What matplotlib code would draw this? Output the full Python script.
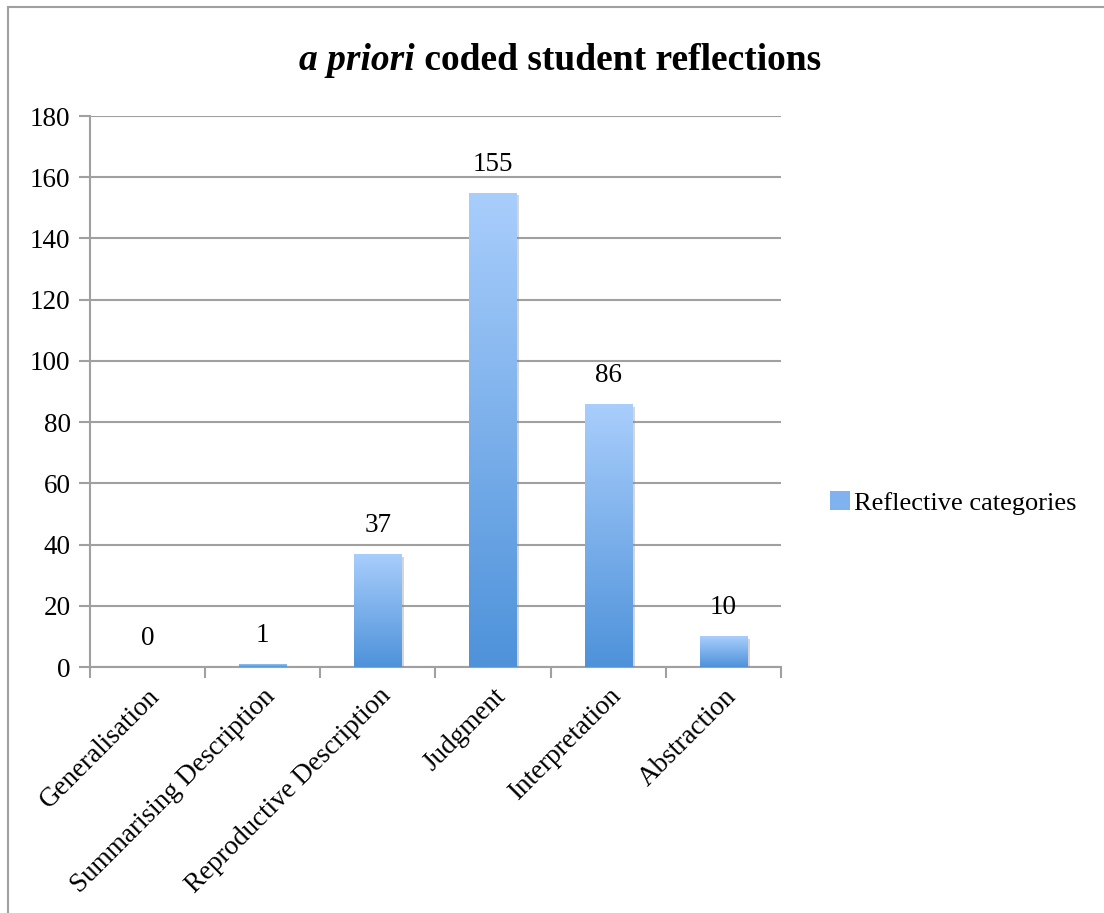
import matplotlib
matplotlib.use("Agg")
import matplotlib.pyplot as plt
import numpy as np
from matplotlib.patches import Rectangle
from matplotlib.lines import Line2D
import matplotlib.patheffects as pe
from matplotlib.colors import LinearSegmentedColormap

categories = ["Generalisation", "Summarising Description", "Reproductive Description",
              "Judgment", "Interpretation", "Abstraction"]
values = [0, 1, 37, 155, 86, 10]
series_name = "Reflective categories"
yticks = [0, 20, 40, 60, 80, 100, 120, 140, 160, 180]

plt.rcParams['font.family'] = ['Liberation Serif', 'DejaVu Serif']

W, H = 1104, 913
fig = plt.figure(figsize=(W/100, H/100), dpi=100)
ax = fig.add_axes([90/W, 1-667/H, (781-90)/W, (667-116)/H])

top_c = "#A9CEFC"
bot_c = "#4E92DA"
cmap = LinearSegmentedColormap.from_list("g", [bot_c, top_c])
grad = np.linspace(0, 1, 256).reshape(-1, 1)

FS = 19.5
bw = 0.41
for i, v in enumerate(values):
    if v <= 0:
        continue
    rect = Rectangle((i - bw/2, 0), bw, v, facecolor=bot_c, edgecolor='none', zorder=3,
                     path_effects=[pe.SimplePatchShadow(offset=(2, -2), shadow_rgbFace='#888888', alpha=0.35),
                                   pe.Normal()])
    ax.add_patch(rect)
    im = ax.imshow(grad, extent=(i - bw/2, i + bw/2, 0, v), origin='lower', cmap=cmap,
                   aspect='auto', zorder=4, interpolation='bilinear')
    im.set_clip_path(rect)

for i, v in enumerate(values):
    ax.text(i, v + 5.2, str(v), ha='center', va='bottom', fontsize=FS, color='black', zorder=5)

ax.set_xlim(-0.5, len(categories) - 0.5)
ax.set_ylim(0, 180)
ax.set_yticks(yticks)
ax.set_yticklabels([str(t) for t in yticks], fontsize=FS)
ax.set_xticks(np.arange(len(categories) + 1) - 0.5)
ax.set_xticklabels([])
ax.set_xticks(np.arange(len(categories)), minor=True)
ax.set_xticklabels(categories, minor=True, rotation=45, ha='right', rotation_mode='anchor', fontsize=FS)
ax.tick_params(axis='x', which='minor', length=0, pad=12)
ax.tick_params(axis='x', which='major', length=8, color='#A0A0A0', width=1.5)
ax.tick_params(axis='y', length=8, color='#A0A0A0', width=1.5, pad=6)
ax.grid(axis='y', color='#A0A0A0', linewidth=1.5, zorder=0)
ax.set_axisbelow(True)
for s in ['top', 'right']:
    ax.spines[s].set_visible(False)
for s in ['left', 'bottom']:
    ax.spines[s].set_color('#A0A0A0')
    ax.spines[s].set_linewidth(1.5)
ax.set_aspect('auto')

# legend
handle = Rectangle((0, 0), 1, 1, facecolor="#7FB2EE", edgecolor='none')
fig.legend([handle], [series_name], loc='center left', bbox_to_anchor=(806/W, 1-503/H),
           frameon=False, fontsize=19, handlelength=0.75, handleheight=0.75, handletextpad=0.15)

# title with mixed styles
t1 = fig.text(0, 1-60/H, "a priori", fontsize=27, fontweight='bold', style='italic', va='center', ha='left')
t2 = fig.text(0, 1-60/H, " coded student reflections", fontsize=27, fontweight='bold', va='center', ha='left')
fig.canvas.draw()
r = fig.canvas.get_renderer()
w1 = t1.get_window_extent(r).width
w2 = t2.get_window_extent(r).width
total = w1 + w2
x0 = 560 - total/2
t1.set_x(x0/W)
t2.set_x((x0 + w1)/W)

# border
fig.add_artist(Line2D([8/W, 8/W], [0, 1-7/H], color='#A0A0A0', linewidth=1.5))
fig.add_artist(Line2D([8/W, 1], [1-7/H, 1-7/H], color='#A0A0A0', linewidth=1.5))

fig.savefig("out.png", dpi=100)
